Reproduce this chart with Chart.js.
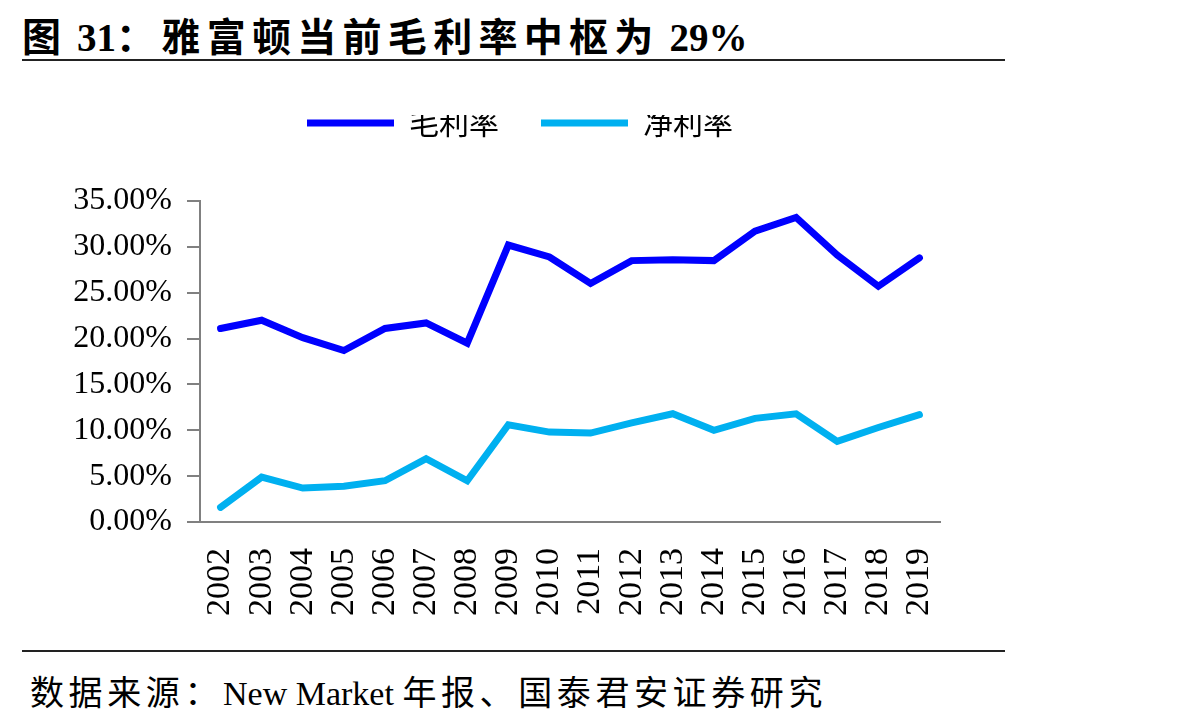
<!DOCTYPE html>
<html>
<head>
<meta charset="utf-8">
<script src="https://cdn.jsdelivr.net/npm/chart.js@4/dist/chart.umd.min.js"></script>
<style>
  html, body { margin: 0; padding: 0; background: #fff; }
  body { width: 1181px; height: 719px; position: relative; overflow: hidden; }
  #title { position: absolute; left: 22px; top: 6px; font: bold 39px "Liberation Serif", "Noto Sans CJK SC", serif; color: #000; white-space: nowrap; }
  #title .cjk { letter-spacing: 6.3px; }
  .rule { position: absolute; left: 22px; width: 983px; height: 2px; background: #222; }
  #foot { position: absolute; left: 30px; top: 666px; font: 34px "Liberation Serif", "Noto Sans CJK SC", serif; color: #000; white-space: nowrap; }
  #foot .cjk { letter-spacing: 4.6px; }
  #wrap { position: absolute; left: 0; top: 115px; width: 1181px; height: 519px; }
</style>
</head>
<body>
<div id="title"><span class="cjk">图</span> 31<span class="cjk">：雅富顿当前毛利率中枢为</span> 29%</div>
<div class="rule" style="top:59px"></div>
<div id="wrap"><canvas id="c"></canvas></div>
<div class="rule" style="top:650px"></div>
<div id="foot"><span class="cjk">数据来源：</span>New Market <span class="cjk">年报、国泰君安证券研究</span></div>
<script>
// years and margins (%)
const years = ['2002','2003','2004','2005','2006','2007','2008','2009','2010',
  '2011','2012','2013','2014','2015','2016','2017','2018','2019'];
const grossMargin = [21.1, 22.0, 20.1, 18.7, 21.1, 21.7, 19.5, 30.2, 28.9,
  26.0, 28.5, 28.6, 28.5, 31.7, 33.2, 29.1, 25.7, 28.8];
const netMargin = [1.6, 4.9, 3.7, 3.9, 4.5, 6.9, 4.5, 10.6, 9.8,
  9.7, 10.8, 11.8, 10.0, 11.3, 11.8, 8.8, 10.3, 11.7];
const yTicks = [0, 5, 10, 15, 20, 25, 30, 35];

const AXIS = '#808080';
const serif = '"Liberation Serif", "Times New Roman", serif';

// move the legend to where the reference has it
const legendShift = {
  id: 'legendShift',
  afterLayout(chart) {
    const lg = chart.legend;
    const dx = 50, dy = -53;
    lg.left += dx; lg.right += dx;
    lg.top += dy; lg.bottom += dy;
  }
};

new Chart(document.getElementById('c'), {
  type: 'line',
  data: {
    labels: years,
    datasets: [
      { label: '毛利率', data: grossMargin, borderColor: '#0000FF', backgroundColor: '#0000FF',
        borderWidth: 7, borderCapStyle: 'round', pointRadius: 0, tension: 0 },
      { label: '净利率', data: netMargin, borderColor: '#00B0F0', backgroundColor: '#00B0F0',
        borderWidth: 7, borderCapStyle: 'round', pointRadius: 0, tension: 0 }
    ]
  },
  options: {
    responsive: true,
    maintainAspectRatio: false,
    animation: false,
    layout: { padding: { left: 0, right: 241, top: 4, bottom: 0 } },
    plugins: {
      legend: {
        position: 'top',
        labels: {
          usePointStyle: true, pointStyle: 'line', pointStyleWidth: 87,
          color: '#000', padding: 42,
          font: { family: '"Noto Sans CJK SC", sans-serif', size: 30 }
        }
      },
      tooltip: { enabled: false }
    },
    scales: {
      x: {
        offset: true,
        grid: { display: false },
        border: { color: AXIS, width: 2 },
        ticks: { color: '#000', minRotation: 90, maxRotation: 90, padding: 18, autoSkip: false,
          font: { family: serif, size: 34 } }
      },
      y: {
        min: 0, max: 35,
        afterFit(s) { s.width = 200; },
        afterBuildTicks(s) { s.ticks = yTicks.map(v => ({ value: v })); },
        grid: { drawOnChartArea: false, drawTicks: true, tickLength: 13, color: AXIS, lineWidth: 2 },
        border: { color: AXIS, width: 2 },
        ticks: { color: '#000', padding: 15, font: { family: serif, size: 32 },
          callback: v => v.toFixed(2) + '%' }
      }
    }
  },
  plugins: [legendShift]
});
</script>
</body>
</html>
